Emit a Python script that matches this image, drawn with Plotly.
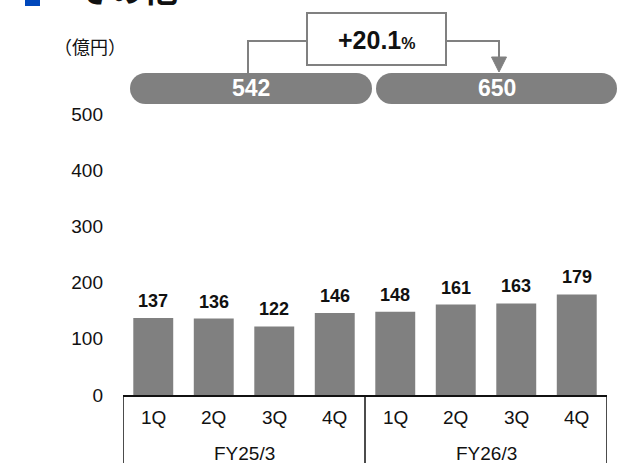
import plotly.graph_objects as go

# data
fiscal_years = ["FY25/3", "FY26/3"]
quarters = ["1Q", "2Q", "3Q", "4Q"]
sales = [137, 136, 122, 146, 148, 161, 163, 179]
annual_totals = [542, 650]
growth_label = "+20.1"
y_ticks = [0, 100, 200, 300, 400, 500]

W, H = 633, 469
L, R, T, B = 123, 26, 114, 74
GRAY = "#808080"
INK = "#111"
FONT = "Liberation Sans, Arial, sans-serif"
JP = "Noto Sans CJK JP, sans-serif"


def px(x):
    """pixel x -> paper x"""
    return (x - L) / (W - L - R)


def py(y):
    """pixel y -> paper y"""
    return (H - B - y) / (H - T - B)


def label(x, y, text, size, color=INK, family=FONT, xref="paper", yref="paper", **kw):
    d = dict(x=x, y=y, xref=xref, yref=yref, text=text, showarrow=False,
             xanchor="center", yanchor="middle", font=dict(size=size, color=color, family=family))
    d.update(kw)
    return d


x_idx = list(range(len(sales)))

fig = go.Figure()
fig.add_trace(go.Bar(x=x_idx, y=sales, marker=dict(color=GRAY, line=dict(width=0)),
                     hoverinfo="skip"))

annotations = []
shapes = []

# value labels above bars
for i, v in zip(x_idx, sales):
    annotations.append(label(i, v, f"<b>{v}</b>", 18, xref="x", yref="y",
                             yanchor="bottom", yshift=5))

# quarter and fiscal-year labels under the axis
for g, fy in enumerate(fiscal_years):
    for q, ql in enumerate(quarters):
        annotations.append(label(g * len(quarters) + q, py(417), ql, 19, xref="x"))
    annotations.append(label(g * len(quarters) + (len(quarters) - 1) / 2, py(453), fy, 19, xref="x"))

# group dividers
for k in range(len(fiscal_years) + 1):
    xd = k * len(quarters) - 0.5
    shapes.append(dict(type="line", xref="x", yref="paper", x0=xd, x1=xd, y0=py(395), y1=py(463),
                       line=dict(color=INK, width=1.5)))

# annual total pills
pill_r = 15.5
pill_y = py(88.5)
pill_edges = [(130, 372), (376, 617)]
for (x0, x1), tot in zip(pill_edges, annual_totals):
    shapes.append(dict(type="rect", xref="paper", yref="paper", x0=px(x0 + pill_r), x1=px(x1 - pill_r),
                       y0=py(104), y1=py(73), fillcolor=GRAY, line=dict(width=0)))
    for cx in (x0 + pill_r, x1 - pill_r):
        shapes.append(dict(type="circle", xref="paper", yref="paper", xsizemode="pixel",
                           ysizemode="pixel", xanchor=px(cx), yanchor=pill_y,
                           x0=-pill_r, x1=pill_r, y0=-pill_r, y1=pill_r,
                           fillcolor=GRAY, line=dict(width=0)))
    annotations.append(label(px((x0 + x1) / 2), pill_y, f"<b>{tot}</b>", 23, color="white"))

# growth box and connectors
shapes.append(dict(type="rect", xref="paper", yref="paper", x0=px(307), x1=px(446), y0=py(65), y1=py(13),
                   fillcolor="white", line=dict(color=GRAY, width=2)))
annotations.append(label(px(377), py(40),
                         f"<b>{growth_label}<span style='font-size:16px'>%</span></b>", 25))
shapes.append(dict(type="path", xref="paper", yref="paper",
                   path=f"M {px(248)},{py(73)} L {px(248)},{py(41)} L {px(307)},{py(41)}",
                   line=dict(color=GRAY, width=2)))
shapes.append(dict(type="path", xref="paper", yref="paper",
                   path=f"M {px(446)},{py(41)} L {px(499)},{py(41)} L {px(499)},{py(58)}",
                   line=dict(color=GRAY, width=2)))
shapes.append(dict(type="path", xref="paper", yref="paper",
                   path=f"M {px(491.5)},{py(57)} L {px(506.5)},{py(57)} L {px(499)},{py(72)} Z",
                   fillcolor=GRAY, line=dict(color=GRAY, width=1)))

# title (cropped at the top edge, as in the source slide) and unit
shapes.append(dict(type="rect", xref="paper", yref="paper", x0=px(25), x1=px(40), y0=py(6), y1=py(-10),
                   fillcolor="#0047BB", line=dict(width=0)))
annotations.append(label(px(74), py(14), "<b>その他</b>", 34, family=JP,
                         xanchor="left", yanchor="bottom"))
annotations.append(label(px(52), py(46), "（億円）", 18, family=JP, xanchor="left"))

fig.update_layout(
    width=W, height=H,
    margin=dict(l=L, r=R, t=T, b=B),
    paper_bgcolor="white", plot_bgcolor="white",
    showlegend=False,
    bargap=0.34,
    xaxis=dict(range=[-0.5, len(sales) - 0.5], showticklabels=False, ticks="", showgrid=False,
               zeroline=False, showline=True, linecolor=INK, linewidth=1.5, fixedrange=True),
    yaxis=dict(range=[0, 500], tickvals=y_ticks, showgrid=False, zeroline=False, showline=False,
               ticks="", ticklabelstandoff=19, fixedrange=True,
               tickfont=dict(size=19, color=INK, family=FONT)),
    shapes=shapes,
    annotations=annotations,
)

# drop the default body margin so the figure sits at the window's top-left corner
fig.write_html("out.html", config={"displayModeBar": False},
               post_script="document.body.style.margin='0';")
